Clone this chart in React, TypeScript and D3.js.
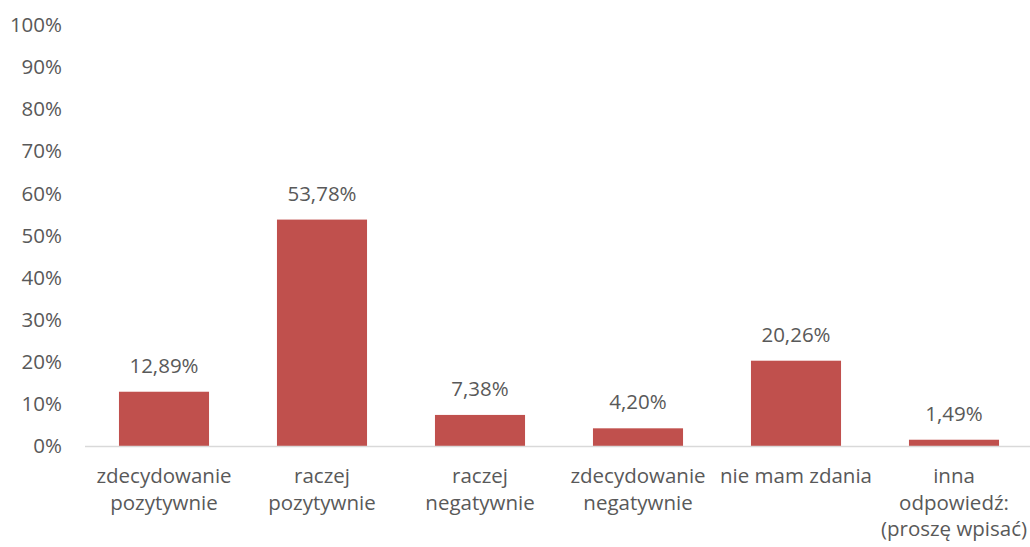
import React from "react";
import * as d3 from "d3";

const categories: string[][] = [
  ["zdecydowanie", "pozytywnie"],
  ["raczej", "pozytywnie"],
  ["raczej", "negatywnie"],
  ["zdecydowanie", "negatywnie"],
  ["nie mam zdania"],
  ["inna", "odpowiedź:", "(proszę wpisać)"],
];
const values: number[] = [12.89, 53.78, 7.38, 4.2, 20.26, 1.49];
const yTicks: number[] = [0, 10, 20, 30, 40, 50, 60, 70, 80, 90, 100];

const W = 1030;
const H = 547;
const FONT = "'Open Sans', sans-serif";
const TEXT = "#595959";
const FS = 20.5;

export default function App() {
  const x = d3
    .scaleBand<number>()
    .domain(d3.range(categories.length))
    .range([85, 85 + 158 * 6])
    .paddingInner(0.43)
    .paddingOuter(0.215);
  const y = d3.scaleLinear().domain([0, 100]).range([446, 25]);
  const fmt = (v: number) => v.toFixed(2).replace(".", ",") + "%";

  return (
    <svg
      width={W}
      height={H}
      style={{ position: "absolute", left: 0, top: 0 }}
      fontFamily={FONT}
    >
      <rect width={W} height={H} fill="#fff" />
      {yTicks.map((t) => (
        <text
          key={t}
          x={62}
          y={y(t)}
          dy="0.35em"
          textAnchor="end"
          fontSize={FS}
          fill={TEXT}
        >
          {t}%
        </text>
      ))}
      {values.map((v, i) => (
        <g key={i}>
          <rect
            x={x(i)}
            y={y(v)}
            width={x.bandwidth()}
            height={y(0) - y(v)}
            fill="#C0504D"
          />
          <text
            x={(x(i) as number) + x.bandwidth() / 2}
            y={y(v) - 19}
            textAnchor="middle"
            fontSize={FS}
            fill={TEXT}
          >
            {fmt(v)}
          </text>
        </g>
      ))}
      <line x1={85} x2={W} y1={446.5} y2={446.5} stroke="#D9D9D9" strokeWidth={1.5} />
      {categories.map((lines, i) => (
        <text
          key={i}
          x={(x(i) as number) + x.bandwidth() / 2}
          y={483}
          textAnchor="middle"
          fontSize={FS}
          fill={TEXT}
        >
          {lines.map((l, j) => (
            <tspan key={j} x={(x(i) as number) + x.bandwidth() / 2} dy={j === 0 ? 0 : 26.5}>
              {l}
            </tspan>
          ))}
        </text>
      ))}
    </svg>
  );
}
